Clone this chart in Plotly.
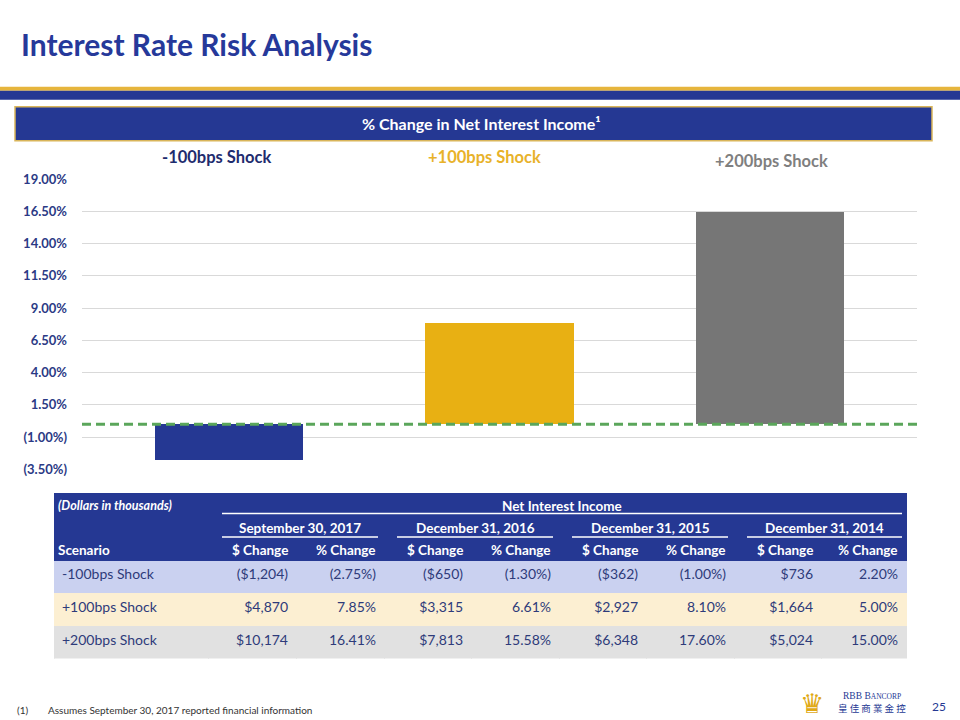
import plotly.graph_objects as go

W, H = 960, 720
# vertical calibration of the capture (measured: shown_y ~= 0.978 * page_y + 8.3)
V_SCALE, V_OFF = 0.978, 8.3


def px(x):
    return x / W


def py(y):
    return 1 - ((y - V_OFF) / V_SCALE) / H


# ---------------- data ----------------
scenarios = ["-100bps Shock", "+100bps Shock", "+200bps Shock"]
pct_sep2017 = [-2.75, 7.85, 16.41]   # chart values (% change, Sep 30 2017)

y_tick_vals = [-3.5, -1.0, 1.5, 4.0, 6.5, 9.0, 11.5, 14.0, 16.5, 19.0]

periods = ["September 30, 2017", "December 31, 2016", "December 31, 2015", "December 31, 2014"]
col_labels = ["$ Change", "% Change"]
usd_sep2017 = [-1204, 4870, 10174]
usd_dec2016 = [-650, 3315, 7813]
pct_dec2016 = [-1.30, 6.61, 15.58]
usd_dec2015 = [-362, 2927, 6348]
pct_dec2015 = [-1.00, 8.10, 17.60]
usd_dec2014 = [736, 1664, 5024]
pct_dec2014 = [2.20, 5.00, 15.00]

# ---------------- style ----------------
NAVY = "#253893"
GOLD = "#E8B013"
GRAY = "#767676"
bar_colors = [NAVY, GOLD, GRAY]
label_colors = ["#1F2C6E", "#E8B22A", "#7F7F7F"]
row_fills = ["#CAD1F0", "#FCEFD2", "#E1E1E1"]
FONT = "Lato, 'Open Sans', sans-serif"


def fmt_usd(v):
    s = "${:,.0f}".format(abs(v))
    return "(" + s + ")" if v < 0 else s


def fmt_pct(v):
    s = "{:.2f}%".format(abs(v))
    return "(" + s + ")" if v < 0 else s


tick_text = [fmt_pct(v) for v in y_tick_vals]

fig = go.Figure()

# ---------------- bar chart ----------------
fig.add_trace(go.Bar(
    x=scenarios, y=pct_sep2017, marker=dict(color=bar_colors, line=dict(width=0)),
    width=0.549, hoverinfo="skip", showlegend=False,
    xaxis="x", yaxis="y",
))

# ---------------- table ----------------
table_cols = [
    scenarios,
    [fmt_usd(v) for v in usd_sep2017], [fmt_pct(v) for v in pct_sep2017],
    [fmt_usd(v) for v in usd_dec2016], [fmt_pct(v) for v in pct_dec2016],
    [fmt_usd(v) for v in usd_dec2015], [fmt_pct(v) for v in pct_dec2015],
    [fmt_usd(v) for v in usd_dec2014], [fmt_pct(v) for v in pct_dec2014],
]
TABLE_L, TABLE_R = 54, 906
col_bounds = [54, 208, 296, 384, 471, 559, 646, 734, 821, 906]
col_widths = [b - a for a, b in zip(col_bounds[:-1], col_bounds[1:])]
aligns = ["left"] + ["right"] * 8
HDR_H = (559 - 494) / V_SCALE
ROW_H = (657 - 559) / 3 / V_SCALE

fig.add_trace(go.Table(
    domain=dict(x=[px(TABLE_L), px(TABLE_R)], y=[py(660), py(494)]),
    columnwidth=col_widths,
    header=dict(values=[""] * 9, fill_color=NAVY, line=dict(color=NAVY, width=1), height=HDR_H),
    cells=dict(values=table_cols, align=aligns,
               fill_color=[row_fills] * 9, line=dict(color=[row_fills] * 9, width=1),
               font=dict(family=FONT, size=14, color="#2E3B7A"), height=ROW_H),
))

# ---------------- layout ----------------
shapes = [
    dict(type="rect", xref="paper", yref="paper", x0=0, x1=1, y0=py(91), y1=py(87),
         fillcolor="#E6B53C", line=dict(width=0), layer="below"),
    dict(type="rect", xref="paper", yref="paper", x0=0, x1=1, y0=py(100), y1=py(91),
         fillcolor=NAVY, line=dict(width=0), layer="below"),
    dict(type="rect", xref="paper", yref="paper", x0=px(15), x1=px(932), y0=py(141), y1=py(107),
         fillcolor=NAVY, line=dict(color="#D9B55A", width=1.5), layer="below"),
    dict(type="line", xref="paper", yref="paper", x0=px(222), x1=px(902), y0=py(514), y1=py(514),
         line=dict(color="white", width=1.5)),
    dict(type="line", xref="x domain", yref="y", x0=0, x1=1, y0=0, y1=0,
         line=dict(color="#5BA65B", width=3, dash="9px,5px")),
]
group_spans = [(222, 378), (397, 553), (572, 728), (747, 902)]
for a, b in group_spans:
    shapes.append(dict(type="line", xref="paper", yref="paper", x0=px(a), x1=px(b),
                       y0=py(537.5), y1=py(537.5), line=dict(color="white", width=1.5)))

annotations = [
    dict(text="<b>Interest Rate Risk Analysis</b>", x=px(19), y=py(44), xanchor="left", yanchor="middle",
         font=dict(family=FONT, size=30, color="#26399A")),
    dict(text="<b>% Change in Net Interest Income¹</b>", x=px(481), y=py(124), xanchor="center",
         yanchor="middle", font=dict(family=FONT, size=16, color="white")),
    dict(text="<b><i>(Dollars in thousands)</i></b>", x=px(56), y=py(506), xanchor="left", yanchor="middle",
         font=dict(family=FONT, size=12.5, color="white")),
    dict(text="<b>Net Interest Income</b>", x=px(562), y=py(506), xanchor="center", yanchor="middle",
         font=dict(family=FONT, size=13.5, color="white")),
    dict(text="<b>Scenario</b>", x=px(56), y=py(550), xanchor="left", yanchor="middle",
         font=dict(family=FONT, size=13.5, color="white")),
    dict(text="(1)", x=px(15), y=py(710), xanchor="left", yanchor="middle",
         font=dict(family=FONT, size=10, color="#333333")),
    dict(text="Assumes September 30, 2017 reported financial information", x=px(46), y=py(710),
         xanchor="left", yanchor="middle", font=dict(family=FONT, size=10, color="#333333")),
    dict(text="♛", x=px(812), y=py(704), xanchor="center", yanchor="middle",
         font=dict(family="DejaVu Sans", size=27, color="#E0A915")),
    dict(text="RBB B<span style='font-size:7.5px'>ANCORP</span>", x=px(841), y=py(696), xanchor="left",
         yanchor="middle", font=dict(family="Liberation Serif", size=9.5, color=NAVY)),
    dict(text="皇 佳 商 業 金 控", x=px(836), y=py(708.5), xanchor="left", yanchor="middle",
         font=dict(family="Noto Sans CJK TC", size=9.5, color=NAVY)),
    dict(text="25", x=px(939), y=py(707), xanchor="center", yanchor="middle",
         font=dict(family=FONT, size=12, color=NAVY)),
]
label_pos = [(217, 157), (484, 157), (771, 161)]
for name, col, (lx, ly) in zip(scenarios, label_colors, label_pos):
    annotations.append(dict(text="<b>" + name + "</b>", x=px(lx), y=py(ly), xanchor="center",
                            yanchor="middle", font=dict(family=FONT, size=16.5, color=col)))
group_centers = [(a + b) / 2 for a, b in group_spans]
for name, cx in zip(periods, group_centers):
    annotations.append(dict(text="<b>" + name + "</b>", x=px(cx), y=py(528), xanchor="center",
                            yanchor="middle", font=dict(family=FONT, size=13.5, color="white")))
# column sub-headers, right-aligned with the cell text
for i in range(8):
    right_edge = col_bounds[i + 2] - 8
    annotations.append(dict(text="<b>" + col_labels[i % 2] + "</b>", x=px(right_edge + 2), y=py(550),
                            xanchor="right", yanchor="middle",
                            font=dict(family=FONT, size=13.5, color="white")))
for a in annotations:
    a.update(xref="paper", yref="paper", showarrow=False)

fig.update_layout(
    width=W, height=H, margin=dict(l=0, r=0, t=0, b=0),
    paper_bgcolor="white", plot_bgcolor="white",
    font=dict(family=FONT),
    xaxis=dict(domain=[px(82), px(917)], range=[-0.543, 2.543], showticklabels=False,
               showgrid=False, zeroline=False, fixedrange=True),
    yaxis=dict(domain=[py(469.7), py(179.3)], range=[-3.5, 19], tickvals=y_tick_vals,
               ticktext=tick_text, showgrid=True, gridcolor="#D9D9D9", gridwidth=1,
               zeroline=False, ticks="", ticklabelstandoff=14,
               tickfont=dict(family=FONT, size=13, color="#2B3A85", weight="bold"),
               fixedrange=True),
    shapes=shapes, annotations=annotations, bargap=0,
)

# pin the figure to the page's top-left corner so the 960x720 page shows it 1:1
pin_js = (
    "document.documentElement.style.margin='0';document.body.style.margin='0';"
    "document.documentElement.style.overflow='hidden';"
    "var gd=document.getElementById('{plot_id}');"
    "gd.style.position='fixed';gd.style.left='0px';gd.style.top='0px';"
)
fig.write_html("out.html", config={"displayModeBar": False}, post_script=pin_js)
